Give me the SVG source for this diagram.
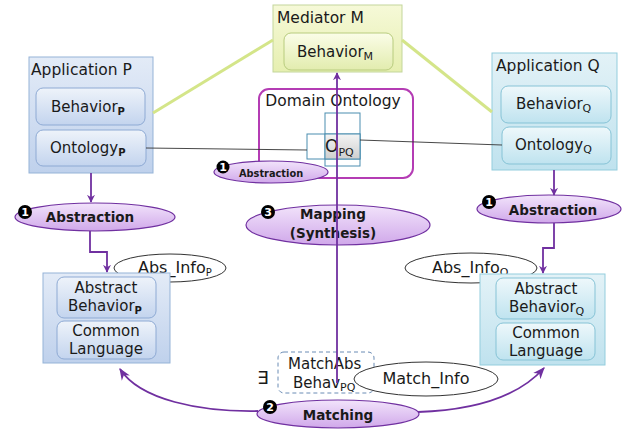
<svg xmlns="http://www.w3.org/2000/svg" width="624" height="432" viewBox="0 0 624 432">
<defs>
<linearGradient id="gBlue" x1="0" y1="0" x2="0" y2="1"><stop offset="0" stop-color="#e3ebf7"/><stop offset="1" stop-color="#bfd1ec"/></linearGradient>
<linearGradient id="gBlueIn" x1="0" y1="0" x2="0" y2="1"><stop offset="0" stop-color="#eef3fa"/><stop offset="1" stop-color="#c3d4ee"/></linearGradient>
<linearGradient id="gCyan" x1="0" y1="0" x2="0" y2="1"><stop offset="0" stop-color="#e3f2f7"/><stop offset="1" stop-color="#bfe2ee"/></linearGradient>
<linearGradient id="gCyanIn" x1="0" y1="0" x2="0" y2="1"><stop offset="0" stop-color="#eef8fb"/><stop offset="1" stop-color="#bfe3ef"/></linearGradient>
<linearGradient id="gYel" x1="0" y1="0" x2="0" y2="1"><stop offset="0" stop-color="#f6f9d8"/><stop offset="1" stop-color="#e6efb0"/></linearGradient>
<linearGradient id="gYelIn" x1="0" y1="0" x2="0" y2="1"><stop offset="0" stop-color="#fbfde8"/><stop offset="1" stop-color="#e2ecae"/></linearGradient>
<linearGradient id="gPur" x1="0" y1="0" x2="0" y2="1"><stop offset="0" stop-color="#f2e4fb"/><stop offset="1" stop-color="#d0a8ea"/></linearGradient>
<linearGradient id="gGray" x1="0" y1="0" x2="0" y2="1"><stop offset="0" stop-color="#f4f4f4"/><stop offset="1" stop-color="#cfcfcf"/></linearGradient>
<marker id="arr" viewBox="0 0 10 10" refX="9" refY="5" markerWidth="8" markerHeight="8" orient="auto" markerUnits="userSpaceOnUse">
<path d="M0,0 L10,5 L0,10 L3,5 z" fill="#7030a0"/></marker>
<marker id="arrL" viewBox="0 0 10 10" refX="9" refY="5" markerWidth="12" markerHeight="12" orient="auto" markerUnits="userSpaceOnUse">
<path d="M0,1 L10,5 L0,9 L3,5 z" fill="#7030a0"/></marker>
</defs>
<style>
text{font-family:"DejaVu Sans","Open Sans",sans-serif;fill:#1a1a1a}
.tt{font-size:15.5px}
.t15{font-size:15px}
.t16{font-size:16px}
.sub{font-size:10px;font-weight:bold}
.subn{font-size:11px}
.bold{font-weight:bold;font-size:13.5px}
.outer{fill:url(#gBlue);stroke:#95b3d7;stroke-width:1}
.inner{fill:url(#gBlueIn);stroke:#8eaad4;stroke-width:1}
.outerC{fill:url(#gCyan);stroke:#93cddd;stroke-width:1}
.innerC{fill:url(#gCyanIn);stroke:#86c3d6;stroke-width:1}
.ell{fill:url(#gPur);stroke:#7030a0;stroke-width:1.2}
.info{fill:#ffffff;stroke:#333333;stroke-width:1}
.pl{fill:none;stroke:#7030a0;stroke-width:1.8}
.yl{fill:none;stroke:#d4e589;stroke-width:3}
.gl{fill:none;stroke:#333333;stroke-width:0.9}
.badge{fill:#000}
.bt{fill:#fff;font-size:11px;font-weight:bold}
</style>

<g id="mediator">
<rect x="273" y="5" width="129" height="67" fill="url(#gYel)" stroke="#c3d69b"/>
<text x="277" y="23" class="tt">Mediator M</text>
<rect x="284" y="33" width="109" height="37" rx="7" fill="url(#gYelIn)" stroke="#b8cc7e"/>
<text x="297" y="57" class="t15">Behavior<tspan class="subn" dy="3">M</tspan></text>
</g>

<g id="appP">
<rect x="29" y="57" width="124" height="116" class="outer"/>
<text x="31" y="75" class="tt">Application P</text>
<rect x="36" y="88" width="109" height="37" rx="7" class="inner"/>
<text x="51" y="112" class="t15">Behavior<tspan class="sub" dy="3">P</tspan></text>
<rect x="36" y="130" width="110" height="36" rx="7" class="inner"/>
<text x="50" y="153" class="t15">Ontology<tspan class="sub" dy="3">P</tspan></text>
</g>

<g id="appQ">
<rect x="492" y="53" width="125" height="117" class="outerC"/>
<text x="496" y="71" class="tt">Application Q</text>
<rect x="501" y="86" width="110" height="37" rx="7" class="innerC"/>
<text x="516" y="109" class="t15">Behavior<tspan class="subn" dy="3">Q</tspan></text>
<rect x="502" y="127" width="109" height="37" rx="7" class="innerC"/>
<text x="515" y="150" class="t15">Ontology<tspan class="subn" dy="3">Q</tspan></text>
</g>

<g id="domainOntology">
<rect x="259" y="89" width="154" height="89" rx="10" fill="none" stroke="#b43cb4" stroke-width="2"/>
<text x="333" y="106" font-size="15.5px" text-anchor="middle">Domain Ontology</text>
<rect x="307" y="134" width="53" height="25" fill="#ffffff" stroke="#4a8db0" stroke-width="1"/>
<rect x="325" y="113" width="35" height="53" fill="none" stroke="#4a8db0" stroke-width="1"/>
<rect x="325" y="134" width="35" height="25" fill="url(#gGray)" stroke="#4a8db0" stroke-width="1"/>
<text x="325" y="152" font-size="17px">O<tspan dy="4" font-size="11px">PQ</tspan></text>
</g>

<g id="abstractionMid">
<ellipse cx="271" cy="172" rx="57" ry="11" class="ell"/>
<circle cx="223" cy="167" r="6.5" class="badge"/>
<text x="223" y="171" class="bt" text-anchor="middle" font-size="10px">1</text>
<text x="239" y="177" font-size="9.8px" font-weight="bold">Abstraction</text>
</g>

<g id="mapping">
<ellipse cx="338" cy="225" rx="92" ry="20" class="ell"/>
<circle cx="268" cy="212" r="7" class="badge"/>
<text x="268" y="216" class="bt" text-anchor="middle">3</text>
<text x="333" y="219" class="bold" text-anchor="middle">Mapping</text>
<text x="333" y="238" class="bold" text-anchor="middle">(Synthesis)</text>
</g>

<g id="abstractionP">
<ellipse cx="95" cy="217" rx="80" ry="14" class="ell"/>
<circle cx="25" cy="212" r="7" class="badge"/>
<text x="25" y="216" class="bt" text-anchor="middle">1</text>
<text x="90" y="222" class="bold" text-anchor="middle">Abstraction</text>
</g>

<g id="abstractionQ">
<ellipse cx="549" cy="209" rx="72" ry="14" class="ell"/>
<circle cx="489" cy="202" r="7" class="badge"/>
<text x="489" y="206" class="bt" text-anchor="middle">1</text>
<text x="553" y="215" class="bold" text-anchor="middle">Abstraction</text>
</g>

<g id="absInfoP">
<ellipse cx="170" cy="268" rx="56" ry="14" class="info"/>
<text x="138" y="273" class="t16">Abs_Info<tspan dy="3" font-size="10px">P</tspan></text>
</g>

<g id="absInfoQ">
<ellipse cx="471" cy="268" rx="66" ry="15" class="info"/>
<text x="432" y="273" class="t16">Abs_Info<tspan dy="3" font-size="11px">Q</tspan></text>
</g>

<g id="abstractP">
<rect x="43" y="273" width="127" height="90" class="outer"/>
<rect x="57" y="277" width="99" height="41" rx="7" class="inner"/>
<text x="106" y="293" class="t15" text-anchor="middle">Abstract</text>
<text x="68" y="311" class="t15">Behavior<tspan class="sub" dy="3">P</tspan></text>
<rect x="57" y="321" width="99" height="38" rx="7" class="inner"/>
<text x="106" y="336" class="t15" text-anchor="middle">Common</text>
<text x="106" y="354" class="t15" text-anchor="middle">Language</text>
</g>

<g id="abstractQ">
<rect x="480" y="274" width="125" height="91" class="outerC"/>
<rect x="496" y="278" width="99" height="41" rx="7" class="innerC"/>
<text x="546" y="294" class="t15" text-anchor="middle">Abstract</text>
<text x="509" y="312" class="t15">Behavior<tspan dy="3" font-size="11px">Q</tspan></text>
<rect x="496" y="323" width="99" height="37" rx="7" class="innerC"/>
<text x="546" y="338" class="t15" text-anchor="middle">Common</text>
<text x="546" y="356" class="t15" text-anchor="middle">Language</text>
</g>

<g id="matchAbs">
<rect x="278" y="352" width="96" height="41" rx="6" fill="none" stroke="#6b8cb5" stroke-width="1" stroke-dasharray="4,3"/>
<text x="263" y="384" font-size="18px" text-anchor="middle">∃</text>
<text x="288" y="369" class="t15">MatchAbs</text>
<text x="293" y="388" class="t15">Behav<tspan dy="3" font-size="11px">PQ</tspan></text>
</g>

<g id="matchInfo">
<ellipse cx="426" cy="379" rx="72" ry="17" class="info"/>
<text x="426" y="384" class="t16" text-anchor="middle">Match_Info</text>
</g>

<g id="matching">
<ellipse cx="338" cy="414" rx="81" ry="14" class="ell"/>
<circle cx="270" cy="407" r="7" class="badge"/>
<text x="270" y="411" class="bt" text-anchor="middle">2</text>
<text x="338" y="420" class="bold" text-anchor="middle">Matching</text>
</g>

<g id="connectors">
<line class="yl" x1="153" y1="113" x2="273" y2="40"/>
<line class="yl" x1="402" y1="40" x2="492" y2="112"/>
<line class="gl" x1="146" y1="148" x2="307" y2="150"/>
<line class="gl" x1="360" y1="140" x2="502" y2="145"/>
<line class="pl" x1="91" y1="173" x2="91" y2="202" marker-end="url(#arr)"/>
<path class="pl" d="M90,231 V252 H107 V272" marker-end="url(#arr)"/>
<line class="pl" x1="554" y1="170" x2="554" y2="195" marker-end="url(#arr)"/>
<path class="pl" d="M554,223 V248 H543 V273" marker-end="url(#arr)"/>
<line class="pl" x1="337" y1="383" x2="337" y2="73" marker-end="url(#arr)"/>
<path class="pl" d="M258,411 C200,412 140,400 120,369" marker-end="url(#arrL)" stroke-width="2"/>
<path class="pl" d="M418,412 C480,410 520,395 544,368" marker-end="url(#arrL)" stroke-width="2"/>
</g>
</svg>
